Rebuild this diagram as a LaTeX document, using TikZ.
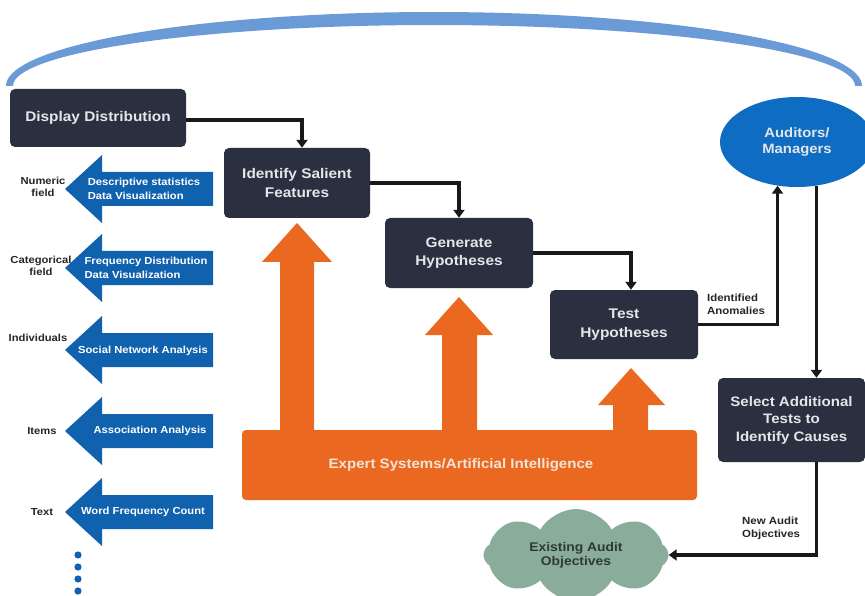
\documentclass[tikz,border=0pt]{standalone}
\usepackage{fontspec}
\setmainfont{Liberation Sans}[FakeStretch=1.1]
\usetikzlibrary{arrows.meta,shapes.geometric,shapes.symbols}
\definecolor{boxdark}{HTML}{2B3040}
\definecolor{boxtext}{HTML}{E4E6EA}
\definecolor{arrowblue}{HTML}{1162AE}
\definecolor{ellblue}{HTML}{0E6DC2}
\definecolor{arcblue}{HTML}{6A9BD6}
\definecolor{aiorange}{HTML}{EA6820}
\definecolor{aitext}{HTML}{F6E4D8}
\definecolor{cloudgreen}{HTML}{8AAC9B}
\definecolor{cloudtext}{HTML}{2E3A36}
\begin{document}
\begin{tikzpicture}[x=1pt,y=-1pt,
  darkbox/.style={fill=boxdark, rounded corners=5pt, text=boxtext, align=center, inner sep=0pt,
    font=\fontsize{14}{18.5}\selectfont\bfseries},
  conn/.style={line width=3.8pt, draw=black!90, -{Triangle[width=11pt,length=8pt]}},
  smalllbl/.style={font=\fontsize{10.2}{12.5}\selectfont\bfseries, text=black!85, align=center, inner sep=0pt},
  arrowtxt/.style={font=\fontsize{10.2}{14}\selectfont\bfseries, text=white, align=left, inner sep=0pt},
  bluearr/.style={fill=arrowblue},
  orangearr/.style={fill=aiorange}
]
\clip (0,0) rectangle (865,596);
\fill[white] (0,0) rectangle (865,596);

% top arc
\fill[arcblue] plot[domain=180:0,samples=90] ({434+428*cos(\x)},{86-74*sin(\x)})
  -- plot[domain=0:180,samples=90] ({434+421*cos(\x)},{86-61*sin(\x)}) -- cycle;

% blue arrows on the left
\foreach \c in {189,268,350,431,512}{
  \fill[bluearr] (65,\c) -- (102,\c-34) -- (102,\c-17) -- (213,\c-17) -- (213,\c+17)
    -- (102,\c+17) -- (102,\c+34) -- cycle;
}
\node[arrowtxt] (b1) at (144,189) {Descriptive statistics\\Data Visualization};
\node[arrowtxt] (b2) at (146,268) {Frequency Distribution\\Data Visualization};
\node[arrowtxt] (b3) at (143,351) {Social Network Analysis};
\node[arrowtxt] (b4) at (150,431) {Association Analysis};
\node[arrowtxt] (b5) at (143,512) {Word Frequency Count};

\node[smalllbl] (l1) at (43,187) {Numeric\\field};
\node[smalllbl] (l2) at (41,266) {Categorical\\field};
\node[smalllbl] (l3) at (38,338) {Individuals};
\node[smalllbl] (l4) at (42,431) {Items};
\node[smalllbl] (l5) at (42,512) {Text};

\foreach \y in {555,567,579,591}{
  \fill[arrowblue] (78,\y) circle[radius=3.6pt];
}

% orange arrows and bar
\fill[orangearr] (280,440) -- (280,262) -- (262,262) -- (297,223) -- (332,262) -- (314,262) -- (314,440) -- cycle;
\fill[orangearr] (442,440) -- (442,335) -- (425,335) -- (459,297) -- (493,335) -- (477,335) -- (477,440) -- cycle;
\fill[orangearr] (613,440) -- (613,405) -- (598,405) -- (631,368) -- (665,405) -- (648,405) -- (648,440) -- cycle;
\node[fill=aiorange, rounded corners=4pt, minimum width=455pt, minimum height=70pt, inner sep=0pt] (ai) at (469.5,465) {};
\node[font=\fontsize{13.7}{16}\selectfont\bfseries, text=aitext, inner sep=0pt] (ait) at (461,465) {Expert Systems/Artificial Intelligence};

% process boxes
\node[darkbox, minimum width=176pt, minimum height=58pt] (D) at (98,118) {Display Distribution};
\node[darkbox, minimum width=146pt, minimum height=70pt] (I) at (297,183) {Identify Salient\\Features};
\node[darkbox, minimum width=148pt, minimum height=70pt] (G) at (459,253) {Generate\\Hypotheses};
\node[darkbox, minimum width=148pt, minimum height=69pt] (T) at (624,324.5) {Test\\Hypotheses};
\node[darkbox, minimum width=147pt, minimum height=84pt, font=\fontsize{13.7}{17.5}\selectfont\bfseries] (S) at (791.5,420) {Select Additional\\Tests to\\Identify Causes};

% auditors ellipse
\node[ellipse, fill=ellblue, minimum width=154pt, minimum height=90pt, inner sep=0pt, text=boxtext,
  align=center, font=\fontsize{13.5}{15.5}\selectfont\bfseries] (A) at (797,142) {Auditors/\\Managers};

% cloud
\node[cloud, cloud puffs=8, cloud puff arc=120, aspect=2.1, fill=cloudgreen, minimum width=185pt,
  minimum height=92pt, inner sep=0pt, align=center, text=cloudtext,
  font=\fontsize{12.6}{13.5}\selectfont\bfseries] (C) at (576,555) {Existing Audit\\Objectives};

% connectors
\draw[conn] ([yshift=-2pt]D.east) -| ([xshift=5pt]I.north);
\draw[conn] (I.east) -| (G.north);
\draw[conn] (G.east) -| ([xshift=7pt]T.north);
\draw[conn] (T.east) -| (A.246);
\draw[conn] (A.294) -- (A.294 |- S.north);
\draw[conn] (A.294 |- S.south) |- (C.east);

\node[smalllbl, align=left, anchor=west, font=\fontsize{10.4}{13}\selectfont\bfseries] (ia) at (707,304) {Identified\\Anomalies};
\node[smalllbl, align=left, anchor=west, font=\fontsize{10.4}{13}\selectfont\bfseries] (na) at (742,528) {New Audit\\Objectives};
\end{tikzpicture}
\end{document}
